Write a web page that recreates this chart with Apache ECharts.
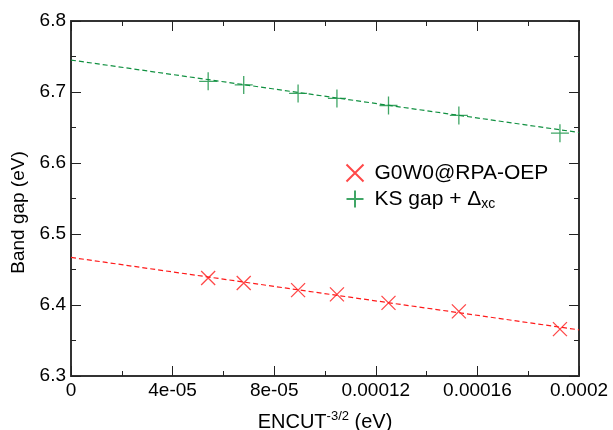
<!DOCTYPE html>
<html>
<head>
    <meta charset="utf-8">
    <title>Band gap vs ENCUT</title>
    <script src="https://cdn.jsdelivr.net/npm/echarts@6/dist/echarts.min.js"></script>
    <style>
        html, body { margin: 0; padding: 0; background: #fff; }
        #main { width: 613px; height: 430px; }
    </style>
</head>
<body>
    <div id="main"></div>
    <script>
        // ENCUT^-3/2 values (eV) of the calculations
        var encutX = [5.40e-5, 6.80e-5, 8.94e-5, 1.047e-4, 1.25e-4, 1.527e-4, 1.925e-4];
        var g0w0Gap = [6.438, 6.431, 6.421, 6.415, 6.403, 6.391, 6.366];
        var ksGap = [6.715, 6.710, 6.698, 6.691, 6.681, 6.667, 6.642];
        // fitted lines read at x = 0 and x = 0.0002
        var fitX = [0, 0.0002];
        var g0w0Fit = [6.467, 6.365];
        var ksFit = [6.745, 6.643];
        var xTickLabels = ['0', '4e-05', '8e-05', '0.00012', '0.00016', '0.0002'];

        var red = '#ff1a1a';
        var green = '#109040';
        var font = '"Liberation Sans", Arial, sans-serif';

        function pairs(xs, ys) {
            return xs.map(function (x, i) { return [x, ys[i]]; });
        }

        var chart = echarts.init(document.getElementById('main'));

        var frameLine = { show: true, onZero: false, lineStyle: { color: '#333', width: 2 } };
        var tickStyle = { color: '#222', width: 1 };
        var xBase = {
            type: 'value', min: 0, max: 0.0002, interval: 0.00004,
            axisLine: frameLine,
            axisTick: { show: true, inside: true, length: 10, lineStyle: tickStyle },
            minorTick: { show: true, splitNumber: 2, length: 5, lineStyle: tickStyle },
            splitLine: { show: false }
        };
        var yBase = {
            type: 'value', min: 6.3, max: 6.8, interval: 0.1,
            axisLine: frameLine,
            axisTick: { show: true, inside: true, length: 10, lineStyle: tickStyle },
            minorTick: { show: true, splitNumber: 2, length: 5, lineStyle: tickStyle },
            splitLine: { show: false }
        };

        var option = {
            animation: false,
            textStyle: { fontFamily: font, color: '#000' },
            grid: { left: 71, right: 34, top: 21, bottom: 54, outerBoundsMode: 'none', containLabel: false },
            legend: {
                orient: 'vertical',
                left: 339,
                top: 157,
                itemWidth: 17,
                itemHeight: 17,
                itemGap: 4,
                data: ['G0W0@RPA-OEP', 'KS gap'],
                formatter: function (name) {
                    if (name === 'KS gap') return '{m|KS gap + Δ}{s|xc}';
                    return '{m|' + name + '}';
                },
                textStyle: {
                    fontFamily: font, color: '#000', fontSize: 21,
                    rich: {
                        m: { fontFamily: font, fontSize: 21, color: '#000', padding: [0, 0, 0, 6] },
                        s: { fontFamily: font, fontSize: 14, color: '#000', padding: [11, 0, 0, 0] }
                    }
                }
            },
            xAxis: [
                Object.assign({}, xBase, {
                    position: 'bottom',
                    name: '{m|ENCUT}{p|-3/2}{m| (eV)}',
                    nameLocation: 'middle',
                    nameGap: 34,
                    nameTextStyle: {
                        rich: {
                            m: { fontFamily: font, fontSize: 20, color: '#000' },
                            p: { fontFamily: font, fontSize: 13, color: '#000', padding: [0, 0, 11, 0] }
                        }
                    },
                    axisLabel: {
                        fontSize: 19, color: '#000', margin: 5,
                        formatter: function (v) { return xTickLabels[Math.round(v / 0.00004)]; }
                    }
                }),
                Object.assign({}, xBase, { position: 'top', axisLabel: { show: false } })
            ],
            yAxis: [
                Object.assign({}, yBase, {
                    position: 'left',
                    name: 'Band gap (eV)',
                    nameLocation: 'middle',
                    nameGap: 37,
                    nameTextStyle: { fontFamily: font, fontSize: 19, color: '#000', padding: [0, 28, 0, 0] },
                    axisLabel: {
                        fontSize: 19, color: '#000', margin: 5,
                        formatter: function (v) { return v.toFixed(1); }
                    }
                }),
                Object.assign({}, yBase, { position: 'right', axisLabel: { show: false } })
            ],
            series: [
                {
                    name: 'G0W0 fit', type: 'line', data: pairs(fitX, g0w0Fit),
                    symbol: 'none', lineStyle: { color: red, width: 1.2, type: [5, 3] }
                },
                {
                    name: 'KS fit', type: 'line', data: pairs(fitX, ksFit),
                    symbol: 'none', lineStyle: { color: green, width: 1.2, type: [5, 3] }
                },
                {
                    name: 'G0W0@RPA-OEP', type: 'scatter', data: pairs(encutX, g0w0Gap),
                    symbol: 'path://M0,0L10,10M10,0L0,10', symbolSize: 14,
                    itemStyle: { color: 'none', borderColor: red, borderWidth: 1.3 }
                },
                {
                    name: 'KS gap', type: 'scatter', data: pairs(encutX, ksGap),
                    symbol: 'path://M5,0L5,10M0,5L10,5', symbolSize: 18,
                    itemStyle: { color: 'none', borderColor: green, borderWidth: 1.3 }
                }
            ]
        };

        chart.setOption(option);
    </script>
</body>
</html>
